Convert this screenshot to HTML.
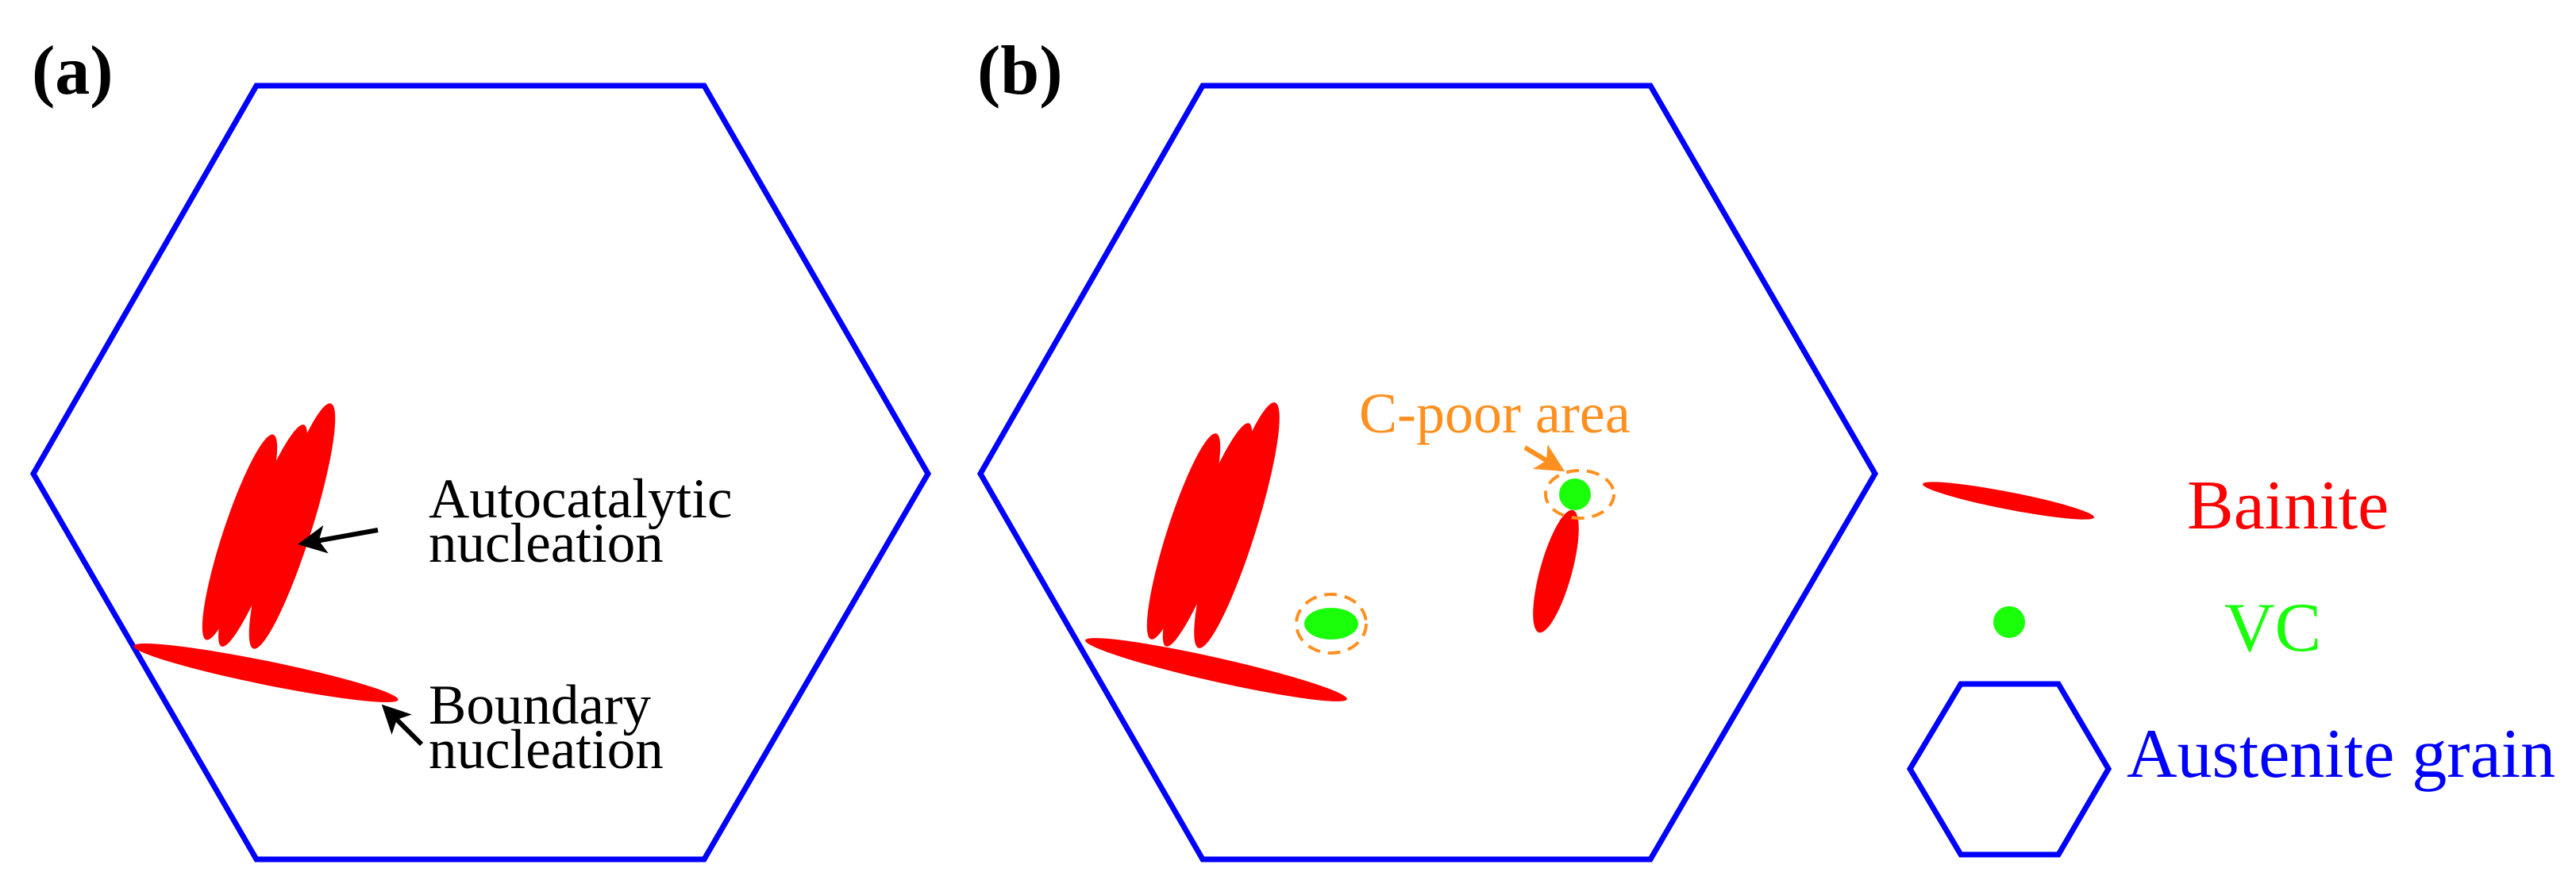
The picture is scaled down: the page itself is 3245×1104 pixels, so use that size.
<!DOCTYPE html>
<html><head><meta charset="utf-8"><style>
html,body{margin:0;padding:0;background:#fff;}
svg{display:block;}
text{font-family:"Liberation Serif",serif;}
</style></head><body>
<svg width="3245" height="1104" viewBox="0 0 3245 1104" xmlns="http://www.w3.org/2000/svg">
<defs>
<marker id="ak" markerWidth="6" markerHeight="6" refX="5" refY="3" orient="auto" markerUnits="strokeWidth"><path d="M0,0 L6,3 L0,6 L1.5,3 z" fill="#000"/></marker>
<marker id="ao" markerWidth="6" markerHeight="6" refX="5" refY="3" orient="auto" markerUnits="strokeWidth"><path d="M0,0 L6,3 L0,6 L1.5,3 z" fill="#ff9020"/></marker>
</defs>
<!-- panel a -->
<text x="40" y="118" font-size="88" font-weight="bold" fill="#000">(a)</text>
<polygon points="323,108 887,108 1169,597 887,1083 323,1083 42,597" fill="none" stroke="#0000ff" stroke-width="7"/>
<ellipse cx="302" cy="677" rx="22" ry="136" transform="rotate(18.1 302 677)" fill="#ff0000"/>
<ellipse cx="331" cy="675" rx="22" ry="149" transform="rotate(20.4 331 675)" fill="#ff0000"/>
<ellipse cx="368" cy="663" rx="25" ry="162" transform="rotate(17.5 368 663)" fill="#ff0000"/>
<ellipse cx="335" cy="848" rx="170" ry="15" transform="rotate(11.5 335 848)" fill="#ff0000"/>
<text x="540" y="652" font-size="71" fill="#000">Autocatalytic</text>
<text x="540" y="708" font-size="71" fill="#000">nucleation</text>
<text x="540" y="912" font-size="71" fill="#000">Boundary</text>
<text x="540" y="968" font-size="71" fill="#000">nucleation</text>
<line x1="476" y1="668" x2="381" y2="685" stroke="#000" stroke-width="6" marker-end="url(#ak)"/>
<line x1="531" y1="938" x2="485" y2="892" stroke="#000" stroke-width="6" marker-end="url(#ak)"/>
<!-- panel b -->
<text x="1231" y="118" font-size="88" font-weight="bold" fill="#000">(b)</text>
<polygon points="1515,108 2079,108 2362,597 2079,1083 1515,1083 1235,597" fill="none" stroke="#0000ff" stroke-width="7"/>
<ellipse cx="1491" cy="676" rx="22" ry="136" transform="rotate(17.6 1491 676)" fill="#ff0000"/>
<ellipse cx="1521" cy="674" rx="22" ry="150" transform="rotate(20.4 1521 674)" fill="#ff0000"/>
<ellipse cx="1558" cy="662" rx="25" ry="162" transform="rotate(17.3 1558 662)" fill="#ff0000"/>
<ellipse cx="1532" cy="844" rx="169" ry="15" transform="rotate(12.7 1532 844)" fill="#ff0000"/>
<ellipse cx="1960" cy="720" rx="20" ry="80" transform="rotate(15.5 1960 720)" fill="#ff0000"/>
<ellipse cx="1677" cy="786" rx="34" ry="20" fill="#1aff0a"/>
<ellipse cx="1677" cy="786" rx="44" ry="37" fill="none" stroke="#ff9020" stroke-width="4" stroke-dasharray="16,10"/>
<circle cx="1984" cy="623" r="20" fill="#1aff0a"/>
<ellipse cx="1990" cy="623" rx="43" ry="30" fill="none" stroke="#ff9020" stroke-width="4" stroke-dasharray="16,10"/>
<text x="1712" y="545" font-size="72" fill="#ff9020">C-poor area</text>
<line x1="1921" y1="564" x2="1966" y2="591" stroke="#ff9020" stroke-width="6" marker-end="url(#ao)"/>
<!-- legend -->
<ellipse cx="2530" cy="631" rx="110" ry="11" transform="rotate(11 2530 631)" fill="#ff0000"/>
<text x="2755" y="666" font-size="88" fill="#ff0000">Bainite</text>
<circle cx="2531" cy="784" r="20" fill="#1aff0a"/>
<text x="2802" y="820" font-size="88" fill="#1aff0a">VC</text>
<polygon points="2470,862 2593,862 2656,969 2593,1077 2470,1077 2406,969" fill="none" stroke="#0000ff" stroke-width="7"/>
<text x="2679" y="979" font-size="88" fill="#0000ff">Austenite grain</text>
</svg>
</body></html>
